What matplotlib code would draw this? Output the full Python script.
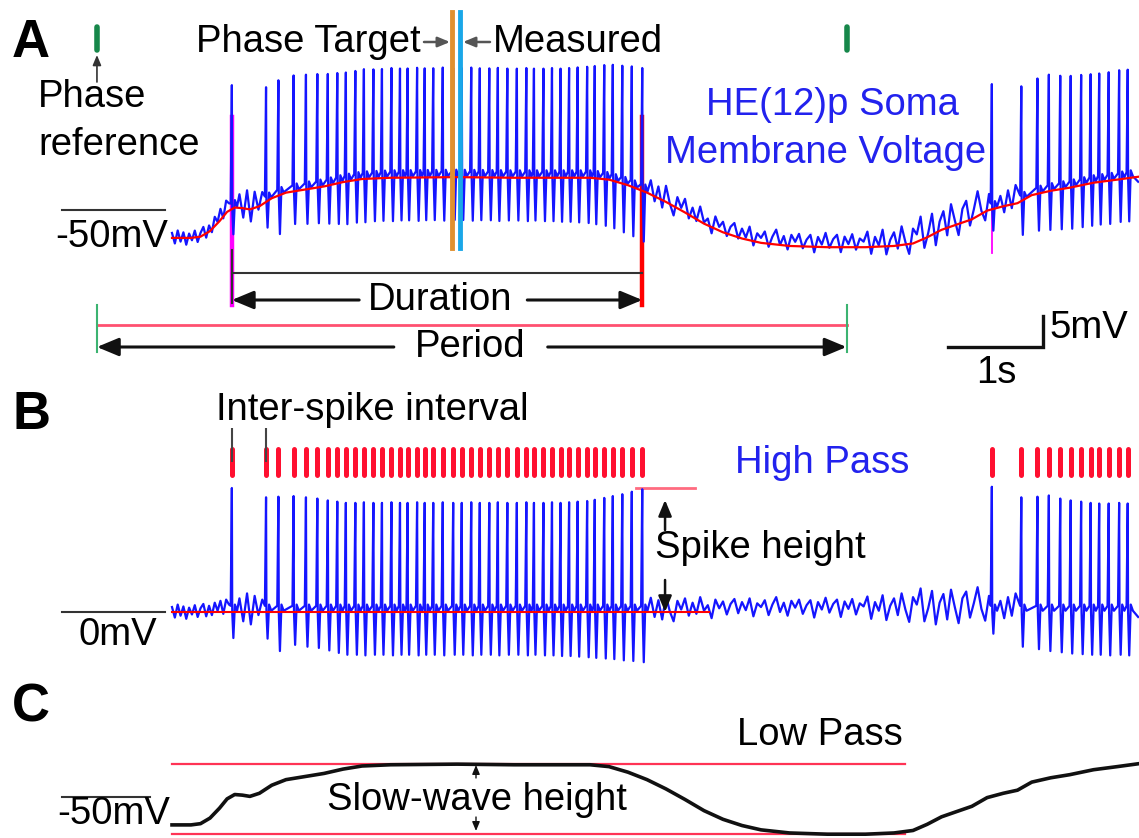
import numpy as np
import matplotlib.pyplot as plt
from matplotlib.transforms import Affine2D, blended_transform_factory

plt.rcParams['font.family'] = ['Liberation Sans', 'DejaVu Sans']

W, H = 1139, 838
PX_PER_S = 95.0     # horizontal scale shared by all traces
PX_PER_MV = 6.2     # vertical scale (5 mV bar)
T0_PX = 172         # left edge of the recording
FS = 27.5           # label font size

# low-pass (slow wave) of the soma voltage: time (s), mV
slow_t = [0.00, 0.20, 0.30, 0.40, 0.50, 0.58, 0.66, 0.74, 0.82, 0.92, 1.05, 1.20,
          1.40, 1.60, 1.80, 2.00, 2.30, 3.00, 3.60, 4.40, 4.60, 4.80, 5.00, 5.20,
          5.40, 5.60, 5.80, 6.00, 6.20, 6.50, 6.90, 7.30, 7.60, 7.80, 7.95, 8.10,
          8.25, 8.42, 8.58, 8.75, 8.90, 9.05, 9.25, 9.45, 9.70, 9.95, 10.19]
slow_mv = [-54.5, -54.5, -54.3, -53.4, -51.8, -50.3, -49.6, -49.7, -49.9, -49.4, -48.1, -47.2,
           -46.7, -46.2, -45.5, -45.0, -44.8, -44.7, -44.8, -44.8, -45.1, -46.0, -47.2, -48.7,
           -50.4, -52.2, -53.6, -54.6, -55.3, -55.8, -56.0, -56.0, -55.8, -55.4, -54.4, -53.2,
           -52.4, -51.5, -50.1, -49.4, -48.9, -47.6, -46.9, -46.4, -45.6, -45.1, -44.6]

# spike times (s), peak above the slow wave and after-hyperpolarisation depth (mV)
burst1_t = [0.63, 0.99, 1.12, 1.28, 1.41, 1.53, 1.64, 1.74, 1.83, 1.93, 2.02, 2.12,
            2.21, 2.31, 2.40, 2.48, 2.58, 2.66, 2.75, 2.85, 2.96, 3.05, 3.15, 3.24,
            3.34, 3.43, 3.53, 3.63, 3.73, 3.81, 3.91, 4.00, 4.09, 4.18, 4.27, 4.37,
            4.45, 4.55, 4.64, 4.74, 4.84, 4.95]
burst1_pk = [20.0, 18.5, 18.6, 18.7, 18.5, 18.3, 18.0, 17.8, 17.6, 17.6, 17.7, 17.6,
             17.6, 17.7, 17.6, 17.6, 17.7, 17.6, 17.6, 17.7, 17.6, 17.6, 17.7, 17.6,
             17.6, 17.7, 17.6, 17.6, 17.7, 17.6, 17.6, 17.7, 17.6, 17.7, 17.8, 17.9,
             18.1, 18.4, 18.7, 19.0, 19.4, 19.8]
burst1_tr = [4.2, 4.3, 6.3, 5.3, 5.6, 5.8, 6.2, 6.6, 6.9, 6.9, 7.0, 6.9,
             6.9, 7.0, 6.9, 6.9, 7.0, 6.9, 6.9, 7.0, 6.9, 6.9, 7.0, 6.9,
             6.9, 7.0, 6.9, 6.9, 7.0, 6.9, 7.0, 7.0, 7.1, 7.1, 7.2, 7.3,
             7.4, 7.5, 7.6, 7.8, 7.9, 8.1]
burst2_t = [8.63, 8.94, 9.11, 9.23, 9.35, 9.46, 9.57, 9.67, 9.76, 9.86, 9.97, 10.06]
burst2_pk = [20.2, 18.5, 18.6, 18.8, 18.3, 18.0, 17.8, 17.6, 17.5, 17.5, 17.6, 17.5]
burst2_tr = [3.5, 5.6, 6.0, 6.3, 6.5, 6.7, 6.8, 6.9, 6.9, 7.0, 6.9, 7.0]

# membrane fluctuations outside the spikes (mV): start (s), step (s), values
pre_noise = [0.8, -0.9, 1.2, -0.6, 0.9, -1.1, 0.7, -0.4, 1.1, -0.8, 0.6, 1.3,
             -0.7, 1.0, -0.5, 1.5, 0.2, 1.8, -0.3, 2.0, 1.2]
gap1_noise = [-3.0, 2.2, -1.5, 3.0, -2.0, 2.6, -0.5, 2.0]
quiet_noise = [0.5, 2.3, -0.8, 1.9, -1.2, 2.6, 0.1, -1.5, 1.8, 0.4, 2.2, -0.6,
               1.5, -0.3, 2.4, 0.2, 1.1, -1.0, 2.0, 0.6, 1.7, -0.4, 1.3, 2.1,
               -0.2, 1.6, 0.3, 2.2, -0.7, 1.4, 0.8, 1.9, -0.5, 1.2, 2.4, 0.0,
               1.5, -0.6, 1.8, 0.7, 2.0, -0.3, 1.1, 1.9, -0.9, 1.6, 0.4, 2.3,
               -0.1, 1.3, 2.0, -0.8, 1.7, 0.5, 2.1, -0.4, 1.4, 0.9, 2.5, -1.1,
               1.6, 0.2, 2.7, -1.3, 1.0, 2.2, -0.5, 3.0, 0.4, -1.6, 2.4, 1.2,
               3.8, -1.5, 0.6, 3.4, -2.0, 1.5, 2.9, -1.2, 3.6, 0.8, -1.8, 2.2,
               3.3, -0.9, 1.4, 4.0, 0.5, -1.4, 2.6]
gap2_noise = [-2.5, 1.8, -1.0, 2.4, -0.6, 3.0]
tail_noise = [0.5, -0.8]
noise_segments = [(0.00, 0.03, pre_noise), (0.67, 0.04, gap1_noise),
                  (5.00, 0.04, quiet_noise), (8.68, 0.04, gap2_noise),
                  (10.12, 0.05, tail_noise)]

# phase bookkeeping (s)
phase_ref = [-0.79, 7.10]
phase_target = 2.95
phase_measured = 3.03

# ---- build the high-pass trace from spikes + fluctuations ----
spk_t = np.array(burst1_t + burst2_t)
spk_pk = burst1_pk + burst2_pk
spk_tr = burst1_tr + burst2_tr
pts = []
for ts, pk, tr in zip(spk_t, spk_pk, spk_tr):
    pts += [(ts - 0.012, 1.0), (ts, pk), (ts + 0.004, 0.0), (ts + 0.016, -tr),
            (ts + 0.032, 1.2), (ts + 0.055, 0.2)]
for t0, dt, vals in noise_segments:
    for i, v in enumerate(vals):
        t = t0 + i * dt
        if np.all((t < spk_t - 0.015) | (t > spk_t + 0.06)):
            pts.append((t, v))
pts.sort()
hp_t, hp_v = np.array(pts).T
soma_v = np.interp(hp_t, slow_t, slow_mv) + hp_v

t_on, t_off = burst1_t[0], burst1_t[-1]

fig = plt.figure(figsize=(W / 100, H / 100), dpi=100)
PX = Affine2D().scale(1, -1).translate(0, H)   # pixel coords, origin top-left


def panel(top_px, bot_px, ref_px, ref_mv):
    ax = fig.add_axes([0, 1 - bot_px / H, 1, (bot_px - top_px) / H])
    ax.set_xlim(-T0_PX / PX_PER_S, (W - T0_PX) / PX_PER_S)
    ax.set_ylim(ref_mv - (bot_px - ref_px) / PX_PER_MV, ref_mv + (ref_px - top_px) / PX_PER_MV)
    ax.axis('off')
    return ax


def tx(ax):
    # x in seconds, y in pixels from the top
    return blended_transform_factory(ax.transData, PX)


def label(x, y, s, size=FS, **kw):
    fig.text(x, y, s, transform=PX, fontsize=size, va='center', **kw)


def arrow(ax, t0, t1, y0, y1, lw=2.2, ms=22, color='#111111', hw=0.25):
    ax.annotate('', xy=(t1, y1), xytext=(t0, y0), xycoords=tx(ax), textcoords=tx(ax),
                arrowprops=dict(arrowstyle=f'-|>,head_length=0.6,head_width={hw}',
                                lw=lw, color=color, shrinkA=0, shrinkB=0, mutation_scale=ms))


def t_of(px):
    return (px - T0_PX) / PX_PER_S


axA = panel(0, 390, 210, -50)
axB = panel(390, 670, 612, 0)
axC = panel(670, 838, 797, -50)

TRACE = '#1515FF'

# ---- A: raw soma voltage ----
for t in phase_ref:
    axA.plot([t, t], [27, 50], transform=tx(axA), color='#16874A', lw=4, solid_capstyle='round')
axA.plot([t_on, t_on], [117, 305], transform=tx(axA), color='#FF00FF', lw=3.2, zorder=2)
axA.plot([t_off, t_off], [117, 305], transform=tx(axA), color='#FF0000', lw=3.2, zorder=2)
axA.plot([burst2_t[0]] * 2, [137, 253], transform=tx(axA), color='#FF00FF', lw=1.3, zorder=2)
axA.plot(hp_t, soma_v, color=TRACE, lw=1.6, zorder=3)
axA.plot(slow_t, slow_mv, color='#FF0000', lw=1.6, zorder=4)
axA.plot([phase_target] * 2, [12, 248], transform=tx(axA), color='#E0902F', lw=3.5, zorder=5)
axA.plot([phase_measured] * 2, [12, 248], transform=tx(axA), color='#1AA7E8', lw=3.5, zorder=5)
axA.plot([t_of(62), t_of(165)], [-50, -50], color='#333333', lw=1.5)

# duration / period brackets
axA.plot([t_on, t_off], [273, 273], transform=tx(axA), color='#333333', lw=1.5)
axA.plot([t_on, t_on], [250, 303], transform=tx(axA), color='#333333', lw=1.5)
mid = (t_on + t_off) / 2
arrow(axA, mid - 0.82, t_on, 300, 300)
arrow(axA, mid + 0.95, t_off, 300, 300)
axA.plot(phase_ref, [325, 325], transform=tx(axA), color='#FF5070', lw=2)
for t in phase_ref:
    axA.plot([t, t], [305, 352], transform=tx(axA), color='#3CB371', lw=1.5)
pmid = sum(phase_ref) / 2
arrow(axA, pmid - 0.82, phase_ref[0], 347, 347)
arrow(axA, pmid + 0.8, phase_ref[1], 347, 347)

# scale bar: 1 s x 5 mV
sb_y = -50 - (347 - 210) / PX_PER_MV
axA.plot([t_of(948), t_of(948) + 1, t_of(948) + 1], [sb_y, sb_y, sb_y + 5],
         color='#111111', lw=2.4, solid_joinstyle='miter')

# ---- B: high pass ----
axB.vlines(spk_t, 449, 475, transform=tx(axB), color='#FF1030', lw=3.6, capstyle='round')
axB.vlines(spk_t[:2], 428, 462, transform=tx(axB), color='#444444', lw=1.5)
axB.plot([0, t_off + 0.7], [0, 0], color='#FF0000', lw=1.5, zorder=4)
axB.plot(hp_t, hp_v, color=TRACE, lw=1.6, zorder=3)
axB.plot([t_off - 0.07, t_off + 0.55], [max(burst1_pk)] * 2, color='#FF6B80', lw=2)
arrow(axB, t_off + 0.24, t_off + 0.24, 530, 500, lw=1.8, ms=16)
arrow(axB, t_off + 0.24, t_off + 0.24, 580, 612, lw=1.8, ms=16)
axB.plot([t_of(62), t_of(165)], [0, 0], color='#333333', lw=1.5)

# ---- C: low pass ----
axC.plot(slow_t, slow_mv, color='#111111', lw=2.6, zorder=3)
for v in (max(slow_mv), min(slow_mv)):
    axC.plot([0, t_of(905)], [v, v], color='#FF3355', lw=1.6, zorder=2)
arrow(axC, 3.2, 3.2, 778, 765, lw=1.0, ms=9)
arrow(axC, 3.2, 3.2, 817, 831, lw=1.0, ms=9)
axC.plot([t_of(62), t_of(150)], [-50, -50], color='#333333', lw=1.5)

# ---- labels ----
for s, y in (('A', 43), ('B', 415), ('C', 707)):
    label(12, y, s, size=38, fontweight='bold')
label(38, 97, 'Phase')
label(38, 145, 'reference')
arrow(axA, phase_ref[0], phase_ref[0], 82, 55, lw=1.2, ms=10, color='#333333')
label(421, 42, 'Phase Target', ha='right')
arrow(axA, t_of(424), t_of(450), 42, 42, lw=1.8, ms=12, color='#555555')
arrow(axA, t_of(490), t_of(463), 42, 42, lw=1.8, ms=12, color='#555555')
label(493, 42, 'Measured')
label(832, 105, 'HE(12)p Soma', ha='center', color='#2222EE')
label(826, 153, 'Membrane Voltage', ha='center', color='#2222EE')
label(168, 237, '-50mV', ha='right')
label(440, 300, 'Duration', ha='center')
label(470, 347, 'Period', ha='center')
label(1049, 328, '5mV')
label(996, 373, '1s', ha='center')
label(216, 410, 'Inter-spike interval')
label(822, 463, 'High Pass', ha='center', color='#2222EE')
label(655, 548, 'Spike height')
label(157, 635, '0mV', ha='right')
label(820, 735, 'Low Pass', ha='center')
label(477, 800, 'Slow-wave height', ha='center')
label(170, 814, '-50mV', ha='right')

fig.savefig('out.png', dpi=100)
